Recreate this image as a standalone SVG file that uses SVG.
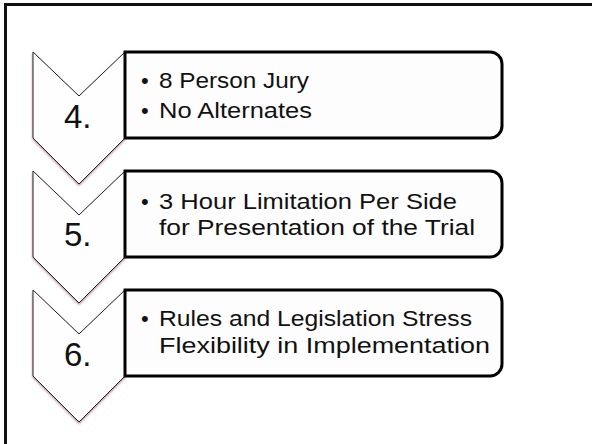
<svg xmlns="http://www.w3.org/2000/svg" width="592" height="444" viewBox="0 0 592 444">
  <defs>
    <style>
      .frame { fill: none; stroke: #111; stroke-width: 3; }
      .chev { fill: #fefefe; stroke: #222; stroke-width: 1; filter: url(#edgeGlow); }
      .box { fill: #fdfdfd; stroke: #000; stroke-width: 3; }
      .num { font-family: "Liberation Sans", Arial, sans-serif; font-size: 33px; fill: #111; }
      .item { font-family: "Liberation Sans", Arial, sans-serif; font-size: 22px; fill: #111; }
    </style>
    <!-- soft maroon rim under the lower chevron edges -->
    <filter id="edgeGlow" x="-20%" y="-20%" width="140%" height="140%">
      <feDropShadow dx="0" dy="1.5" stdDeviation="1" flood-color="#7a2a40" flood-opacity="0.55"/>
    </filter>
  </defs>

  <!-- page frame (left and top edges) -->
  <path class="frame" d="M5.5,444 V4.5 H592"/>

  <g id="connectors"/>

  <g id="step4">
    <path class="chev" d="M33,52 L79,96 L125,52 V138 L79,184 L33,138 Z"/>
    <path class="box" d="M125,52 H490 A12,12 0 0 1 502,64 V126 A12,12 0 0 1 490,138 H125 Z"/>
    <text class="num" x="64" y="128">4.</text>
    <text class="item" y="88"><tspan x="141">•</tspan><tspan x="159" textLength="150" lengthAdjust="spacingAndGlyphs">8 Person Jury</tspan></text>
    <text class="item" y="118"><tspan x="141">•</tspan><tspan x="159" textLength="153" lengthAdjust="spacingAndGlyphs">No Alternates</tspan></text>
  </g>

  <g id="step5">
    <path class="chev" d="M33,171 L79,215 L125,171 V257 L79,303 L33,257 Z"/>
    <path class="box" d="M125,171 H490 A12,12 0 0 1 502,183 V245 A12,12 0 0 1 490,257 H125 Z"/>
    <text class="num" x="64" y="246">5.</text>
    <text class="item" y="209"><tspan x="141">•</tspan><tspan x="159" textLength="298" lengthAdjust="spacingAndGlyphs">3 Hour Limitation Per Side</tspan></text>
    <text class="item" y="235"><tspan x="159" textLength="316" lengthAdjust="spacingAndGlyphs">for Presentation of the Trial</tspan></text>
  </g>

  <g id="step6">
    <path class="chev" d="M33,290 L79,334 L125,290 V376 L79,422 L33,376 Z"/>
    <path class="box" d="M125,290 H490 A12,12 0 0 1 502,302 V364 A12,12 0 0 1 490,376 H125 Z"/>
    <text class="num" x="64" y="366">6.</text>
    <text class="item" y="326"><tspan x="141">•</tspan><tspan x="159" textLength="313" lengthAdjust="spacingAndGlyphs">Rules and Legislation Stress</tspan></text>
    <text class="item" y="353"><tspan x="159" textLength="331" lengthAdjust="spacingAndGlyphs">Flexibility in Implementation</tspan></text>
  </g>
</svg>
